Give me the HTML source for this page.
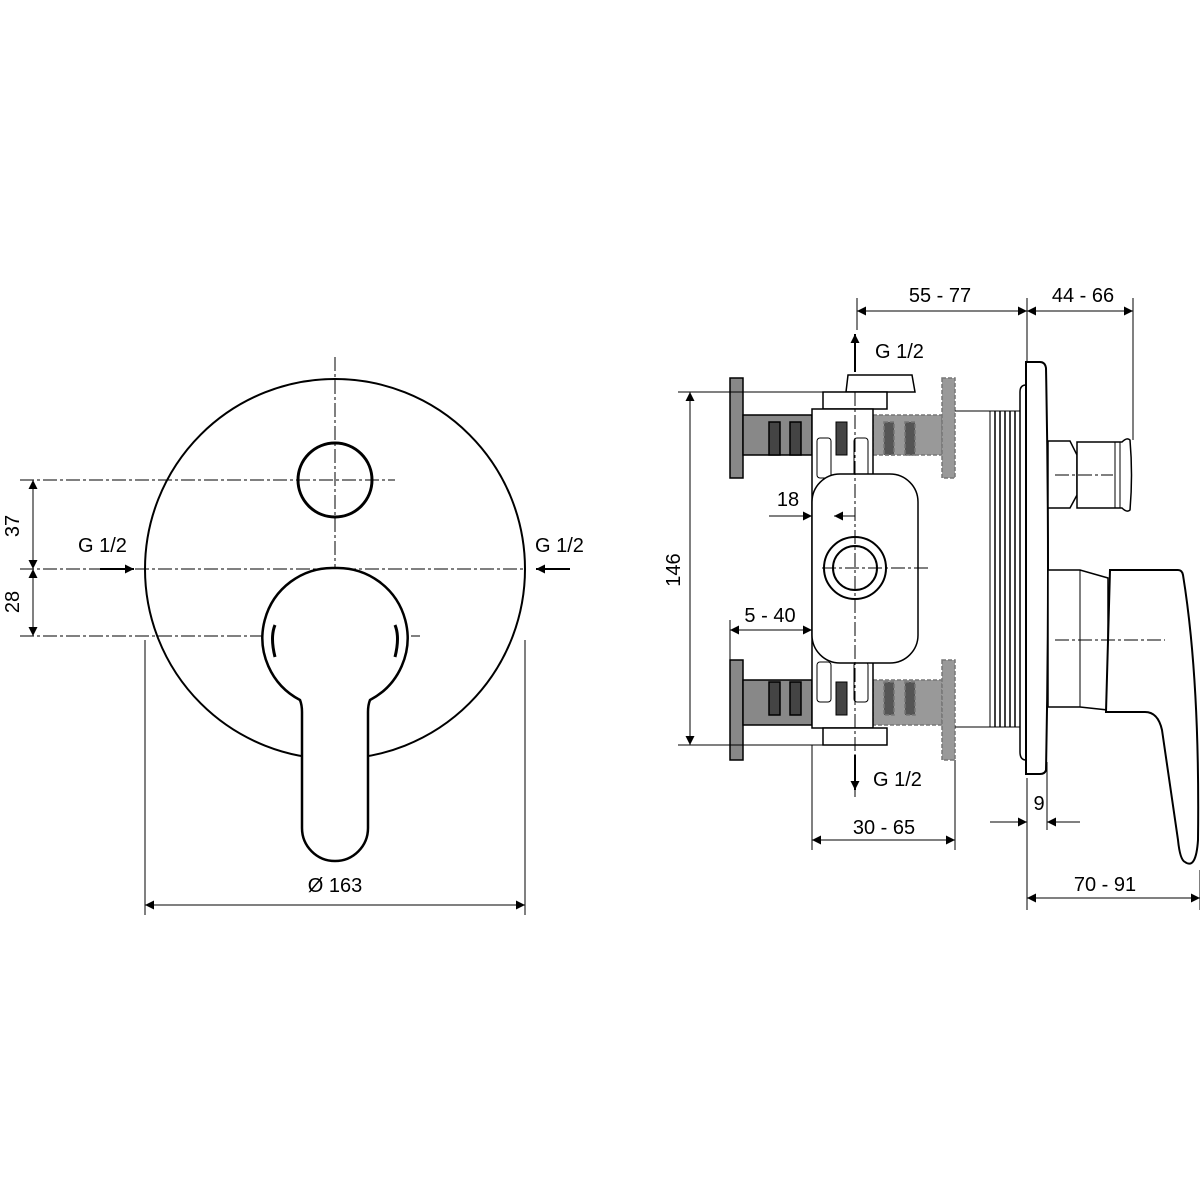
<!DOCTYPE html>
<html><head><meta charset="utf-8"><style>
html,body{margin:0;padding:0;background:#fff}
svg{display:block}
text{font-family:"Liberation Sans",sans-serif;font-size:20px;fill:#000}
</style></head><body>
<svg width="1200" height="1200" viewBox="0 0 1200 1200" xmlns="http://www.w3.org/2000/svg">
<defs>
<marker id="a" viewBox="0 0 10 10" refX="10" refY="5" markerWidth="16" markerHeight="9" orient="auto-start-reverse" markerUnits="userSpaceOnUse"><path d="M0,0L10,5L0,10z" fill="#000"/></marker>
</defs>
<g fill="none" stroke="#000" stroke-width="1">
<!-- LEFT VIEW -->
<g stroke-dasharray="14,3,3,3" stroke-width="1">
<line x1="335" y1="357" x2="335" y2="860"/>
<line x1="20" y1="480" x2="395" y2="480"/>
<line x1="20" y1="569" x2="525" y2="569"/>
<line x1="20" y1="636" x2="420" y2="636"/>
</g>
<circle cx="335" cy="569" r="190" stroke-width="2"/>
<circle cx="335" cy="480" r="37" stroke-width="3"/>
<path d="M335,568 A70,70 0 0 1 370,700 Q368,705 368,712 L368,828 A33,33 0 0 1 302,828 L302,712 Q302,705 300,700 A70,70 0 0 1 335,568 Z" fill="#fff" stroke-width="2.5"/>
<path d="M275,625 Q270,637 275,657" stroke-width="3"/>
<path d="M395,625 Q400,637 395,657" stroke-width="3"/>
<!-- dims left -->
<line x1="33" y1="480" x2="33" y2="569" marker-start="url(#a)" marker-end="url(#a)"/>
<line x1="33" y1="569" x2="33" y2="636" marker-start="url(#a)" marker-end="url(#a)"/>
<line x1="100" y1="569" x2="134" y2="569" stroke-width="2" marker-end="url(#a)"/>
<line x1="570" y1="569" x2="536" y2="569" stroke-width="2" marker-end="url(#a)"/>
<line x1="145" y1="640" x2="145" y2="915"/>
<line x1="525" y1="640" x2="525" y2="915"/>
<line x1="145" y1="905" x2="525" y2="905" marker-start="url(#a)" marker-end="url(#a)"/>

<!-- RIGHT VIEW -->
<g stroke-width="1.5">
<rect x="730" y="378" width="13" height="100" fill="#888"/>
<rect x="743" y="415" width="69" height="40" fill="#888"/>
<rect x="769" y="422" width="11" height="33" fill="#444"/>
<rect x="790" y="422" width="11" height="33" fill="#444"/>
<rect x="730" y="660" width="13" height="100" fill="#888"/>
<rect x="743" y="680" width="69" height="45" fill="#888"/>
<rect x="769" y="682" width="11" height="33" fill="#444"/>
<rect x="790" y="682" width="11" height="33" fill="#444"/>
</g>
<g stroke-width="1.5" stroke-dasharray="4,2" stroke="#777">
<rect x="873" y="415" width="69" height="40" fill="#999"/>
<rect x="884" y="422" width="10" height="33" fill="#555"/>
<rect x="905" y="422" width="10" height="33" fill="#555"/>
<rect x="942" y="378" width="13" height="100" fill="#999"/>
<rect x="873" y="680" width="69" height="45" fill="#999"/>
<rect x="884" y="682" width="10" height="33" fill="#555"/>
<rect x="905" y="682" width="10" height="33" fill="#555"/>
<rect x="942" y="660" width="13" height="100" fill="#999"/>
</g>
<line x1="955" y1="411" x2="990" y2="411"/>
<line x1="955" y1="727" x2="990" y2="727"/>
<!-- body -->
<path d="M846,392 L848,375 L912,375 L915,392 Z" fill="#fff" stroke-width="1.5"/>
<rect x="823" y="392" width="64" height="17" fill="#fff" stroke-width="1.5"/>
<rect x="812" y="409" width="61" height="319" fill="#fff" stroke-width="1.5"/>
<rect x="823" y="728" width="64" height="17" fill="#fff" stroke-width="1.5"/>
<rect x="836" y="422" width="11" height="33" fill="#444"/>
<rect x="836" y="682" width="11" height="33" fill="#444"/>
<rect x="817" y="438" width="14" height="40" rx="3"/>
<rect x="854" y="438" width="14" height="40" rx="3"/>
<rect x="817" y="662" width="14" height="40" rx="3"/>
<rect x="854" y="662" width="14" height="40" rx="3"/>
<rect x="812" y="474" width="106" height="189" rx="28" fill="#fff" stroke-width="1.5"/>
<circle cx="855" cy="568" r="31" stroke-width="2"/>
<circle cx="855" cy="568" r="22" stroke-width="2"/>
<!-- thread body -->
<rect x="990" y="411" width="30" height="316" fill="#fff"/>
<g stroke-width="1.5">
<line x1="995" y1="411" x2="995" y2="727"/>
<line x1="1000" y1="411" x2="1000" y2="727"/><line x1="1005" y1="411" x2="1005" y2="727"/>
<line x1="1010" y1="411" x2="1010" y2="727"/><line x1="1015" y1="411" x2="1015" y2="727"/>
</g>
<!-- plates -->
<path d="M1020,392 Q1020,385 1026,385 L1026,760 Q1020,760 1020,752 Z" fill="#fff" stroke-width="1.5"/>
<path d="M1026,362 L1040,362 Q1045,362 1046,368 Q1050,570 1046,770 Q1045,774 1040,774 L1026,774 Z" fill="#fff" stroke-width="2"/>
<!-- diverter -->
<path d="M1048,441 L1070,441 L1077,455 L1077,495 L1070,508 L1048,508 Z" fill="#fff" stroke-width="1.5"/>
<path d="M1077,442 L1122,442 Q1127,437 1130,440 Q1133,475 1130,510 Q1127,513 1122,508 L1077,508 Z" fill="#fff" stroke-width="1.5"/>
<line x1="1115" y1="442" x2="1115" y2="508"/>
<line x1="1120" y1="442" x2="1120" y2="508"/>
<!-- lever side -->
<path d="M1048,570 L1080,570 L1108,578 L1108,710 L1080,707 L1048,707 Z" fill="#fff" stroke-width="1.5"/>
<line x1="1080" y1="570" x2="1080" y2="707"/>
<path d="M1110,570 L1178,570 Q1182,570 1183,575 Q1200,680 1198,840 Q1196,870 1185,862 Q1180,860 1178,840 L1162,730 Q1158,712 1145,712 L1106,712 Z" fill="#fff" stroke-width="2"/>
<!-- centerlines right -->
<g stroke-dasharray="14,3,3,3">
<line x1="855" y1="392" x2="855" y2="800"/>
<line x1="822" y1="568" x2="928" y2="568"/>
<line x1="1055" y1="475" x2="1113" y2="475"/>
<line x1="1055" y1="640" x2="1165" y2="640"/>
</g>
<!-- dims right -->
<line x1="857" y1="298" x2="857" y2="330"/>
<line x1="1027" y1="298" x2="1027" y2="362"/>
<line x1="1133" y1="298" x2="1133" y2="440"/>
<line x1="857" y1="311" x2="1027" y2="311" marker-start="url(#a)" marker-end="url(#a)"/>
<line x1="1027" y1="311" x2="1133" y2="311" marker-start="url(#a)" marker-end="url(#a)"/>
<line x1="855" y1="372" x2="855" y2="334" stroke-width="2" marker-end="url(#a)"/>
<line x1="855" y1="755" x2="855" y2="790" stroke-width="2" marker-end="url(#a)"/>
<line x1="678" y1="392" x2="846" y2="392"/>
<line x1="678" y1="745" x2="823" y2="745"/>
<line x1="690" y1="392" x2="690" y2="745" marker-start="url(#a)" marker-end="url(#a)"/>
<line x1="769" y1="516" x2="812" y2="516" marker-end="url(#a)"/>
<line x1="855" y1="516" x2="834" y2="516" marker-end="url(#a)"/>
<line x1="730" y1="620" x2="730" y2="660"/>
<line x1="730" y1="630" x2="812" y2="630" marker-start="url(#a)" marker-end="url(#a)"/>
<line x1="812" y1="745" x2="812" y2="850"/>
<line x1="955" y1="760" x2="955" y2="850"/>
<line x1="812" y1="840" x2="955" y2="840" marker-start="url(#a)" marker-end="url(#a)"/>
<line x1="1027" y1="778" x2="1027" y2="910"/>
<line x1="1047" y1="762" x2="1047" y2="830"/>
<line x1="990" y1="822" x2="1027" y2="822" marker-end="url(#a)"/>
<line x1="1080" y1="822" x2="1047" y2="822" marker-end="url(#a)"/>
<line x1="1200" y1="870" x2="1200" y2="910"/>
<line x1="1027" y1="898" x2="1200" y2="898" marker-start="url(#a)" marker-end="url(#a)"/>
</g>
<!-- text -->
<text x="78" y="552">G 1/2</text>
<text x="535" y="552">G 1/2</text>
<text transform="translate(19,526) rotate(-90)" text-anchor="middle">37</text>
<text transform="translate(19,602) rotate(-90)" text-anchor="middle">28</text>
<text x="335" y="892" text-anchor="middle">Ø 163</text>
<text x="940" y="302" text-anchor="middle">55 - 77</text>
<text x="1083" y="302" text-anchor="middle">44 - 66</text>
<text x="875" y="358">G 1/2</text>
<text x="873" y="786">G 1/2</text>
<text transform="translate(680,570) rotate(-90)" text-anchor="middle">146</text>
<text x="788" y="506" text-anchor="middle">18</text>
<text x="770" y="622" text-anchor="middle">5 - 40</text>
<text x="884" y="834" text-anchor="middle">30 - 65</text>
<text x="1039" y="810" text-anchor="middle">9</text>
<text x="1105" y="891" text-anchor="middle">70 - 91</text>
</svg>
</body></html>
